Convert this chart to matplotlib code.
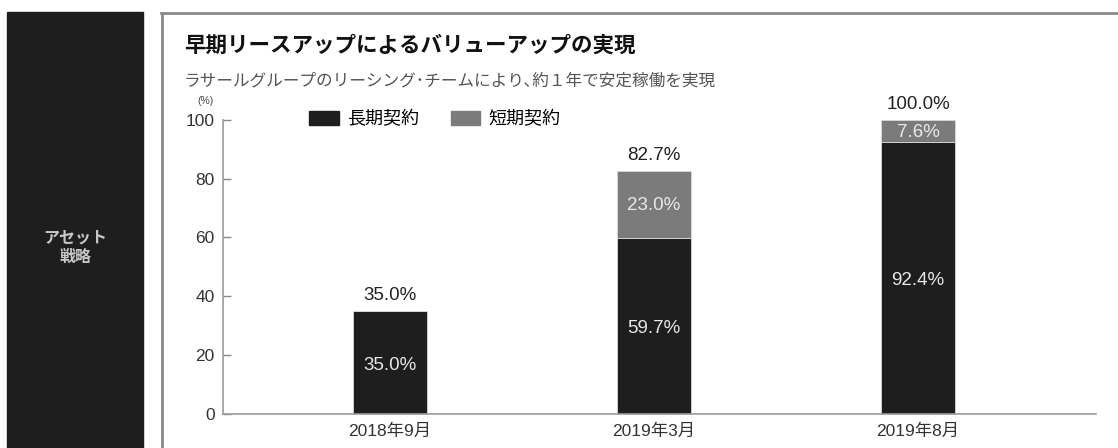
import matplotlib.pyplot as plt
from matplotlib.patches import Rectangle, Patch

plt.rcParams['font.family'] = ['Liberation Sans', 'Noto Sans CJK JP', 'DejaVu Sans']

# Data
periods = ['2018年9月', '2019年3月', '2019年8月']
long_term = [35.0, 59.7, 92.4]
short_term = [0.0, 23.0, 7.6]
totals = [35.0, 82.7, 100.0]
series_names = ['長期契約', '短期契約']
y_ticks = [0, 20, 40, 60, 80, 100]

dark = '#1e1e1e'
gray = '#7b7b7b'

fig = plt.figure(figsize=(11.18, 4.48), dpi=100)

# left black panel with the section label
fig.patches.append(Rectangle((7 / 1118, 0), 136 / 1118, 1 - 12 / 448,
                             transform=fig.transFigure, color=dark, zorder=0))
fig.text(75 / 1118, 1 - 247 / 448, 'アセット\n戦略', color='#c8c8c8', fontsize=11.5,
         fontweight='bold', ha='center', va='center', linespacing=1.3,
         family=['Noto Sans CJK JP'])

# frame around the chart area
fig.add_artist(plt.Line2D([162 / 1118, 162 / 1118], [0, 1 - 13 / 448],
                          transform=fig.transFigure, color='#8a8a8a', lw=2))
fig.add_artist(plt.Line2D([161 / 1118, 1], [1 - 13 / 448, 1 - 13 / 448],
                          transform=fig.transFigure, color='#8a8a8a', lw=2))

# titles
fig.text(184 / 1118, 1 - 45 / 448, '早期リースアップによるバリューアップの実現',
         fontsize=15.5, fontweight='bold', color='#111111', va='center',
         family=['Noto Sans CJK JP'])
fig.text(184 / 1118, 1 - 81 / 448,
         'ラサールグループのリーシング･チームにより､約１年で安定稼働を実現',
         fontsize=12, color='#555555', va='center', family=['Noto Sans CJK JP'])
fig.text(205 / 1118, 1 - 101 / 448, '(%)', fontsize=7.5, color='#444444',
         ha='center', va='center')

ax = fig.add_axes([223 / 1118, (448 - 413.5) / 448, 873 / 1118, 293.5 / 448])

x = list(range(len(periods)))
width = 0.28
ax.bar(x, long_term, width, color=dark, edgecolor='#d8d8d8', linewidth=0.6,
       label=series_names[0], zorder=2)
ax.bar(x, short_term, width, bottom=long_term, color=gray, edgecolor='#d8d8d8',
       linewidth=0.6, label=series_names[1], zorder=2)

for i in x:
    ax.text(i, long_term[i] / 2 - 1, f'{long_term[i]:.1f}%', ha='center',
            va='center', color='#e8e8e8', fontsize=13.5, zorder=3)
    if short_term[i] > 0:
        ax.text(i, long_term[i] + short_term[i] / 2 - 0.5, f'{short_term[i]:.1f}%',
                ha='center', va='center', color='#e8e8e8', fontsize=13.5, zorder=3)
    ax.annotate(f'{totals[i]:.1f}%', (i, totals[i]), xytext=(0, 5),
                textcoords='offset points', ha='center', va='bottom',
                color='#222222', fontsize=13.5)

ax.set_xlim(-0.6326, 2.674)
ax.set_ylim(0, 100)
ax.set_yticks(y_ticks)
ax.set_xticks(x)
ax.set_xticklabels(periods)
ax.tick_params(axis='y', direction='in', length=6, width=1, color='#888888',
               labelsize=12.5, labelcolor='#333333', pad=6)
ax.tick_params(axis='x', length=0, labelsize=12.5, labelcolor='#333333', pad=7)

for side in ['top', 'right']:
    ax.spines[side].set_visible(False)
for side in ['left', 'bottom']:
    ax.spines[side].set_color('#999999')
    ax.spines[side].set_linewidth(1.2)

handles = [Patch(color=dark), Patch(color=gray)]
ax.legend(handles, series_names, loc='center left', bbox_to_anchor=(0.0985, 1.003),
          ncol=2, frameon=False, borderpad=0, borderaxespad=0,
          handlelength=1.65, handleheight=0.8, handletextpad=0.45, columnspacing=1.75,
          prop={'family': ['Noto Sans CJK JP'], 'size': 13})

fig.savefig('out.png', dpi=100)
